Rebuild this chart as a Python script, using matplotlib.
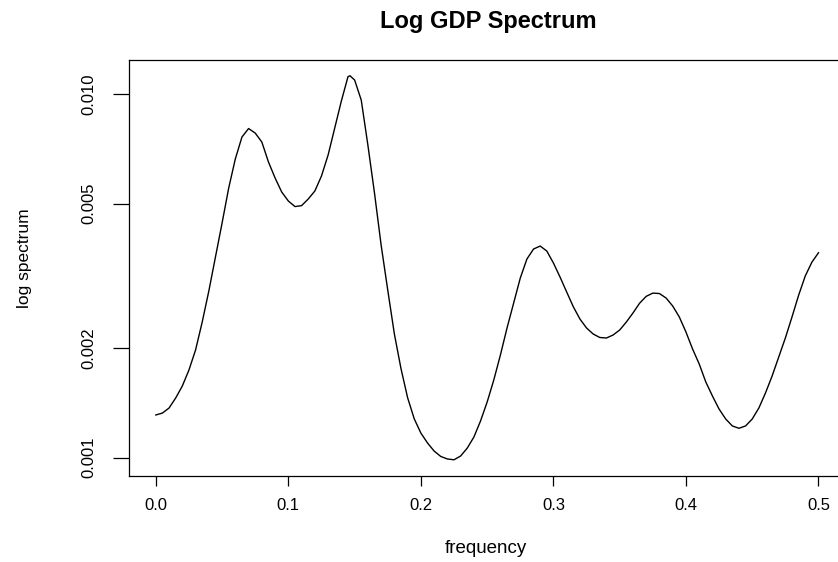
import matplotlib
matplotlib.use("Agg")
import matplotlib.pyplot as plt

plt.rcParams['font.family'] = ['Liberation Sans', 'DejaVu Sans']

# frequency values and spectrum
freq = [0.000, 0.005, 0.010, 0.015, 0.020, 0.025, 0.030, 0.035, 0.040, 0.045,
        0.050, 0.055, 0.060, 0.065, 0.070, 0.075, 0.080, 0.085, 0.090, 0.095,
        0.100, 0.105, 0.110, 0.115, 0.120, 0.125, 0.130, 0.135, 0.140, 0.145,
        0.1465, 0.150, 0.155, 0.160, 0.165, 0.170, 0.175, 0.180, 0.185, 0.190,
        0.195, 0.200, 0.205, 0.210, 0.215, 0.220, 0.225, 0.230, 0.235, 0.240,
        0.245, 0.250, 0.255, 0.260, 0.265, 0.270, 0.275, 0.280, 0.285, 0.290,
        0.295, 0.300, 0.305, 0.310, 0.315, 0.320, 0.325, 0.330, 0.335, 0.340,
        0.345, 0.350, 0.355, 0.360, 0.365, 0.370, 0.375, 0.380, 0.385, 0.390,
        0.395, 0.400, 0.405, 0.410, 0.415, 0.420, 0.425, 0.430, 0.435, 0.440,
        0.445, 0.450, 0.455, 0.460, 0.465, 0.470, 0.475, 0.480, 0.485, 0.490,
        0.495, 0.500]
spec = [0.001311, 0.001327, 0.001370, 0.001460, 0.001575, 0.001743, 0.001979,
        0.002362, 0.002875, 0.003567, 0.004423, 0.005523, 0.006642, 0.007631,
        0.008051, 0.007823, 0.007391, 0.006513, 0.005886, 0.005384, 0.005086,
        0.004910, 0.004940, 0.005151, 0.005419, 0.005960, 0.006808, 0.008078,
        0.009585, 0.011180, 0.011250, 0.010950, 0.009645, 0.007253, 0.005350,
        0.003848, 0.002893, 0.002190, 0.001758, 0.001462, 0.001279, 0.001169,
        0.001098, 0.001043, 0.001008, 0.000992, 0.000987, 0.001011, 0.001063,
        0.001140, 0.001262, 0.001423, 0.001636, 0.001917, 0.002275, 0.002665,
        0.003122, 0.003522, 0.003752, 0.003824, 0.003705, 0.003434, 0.003142,
        0.002858, 0.002603, 0.002408, 0.002275, 0.002190, 0.002142, 0.002135,
        0.002176, 0.002246, 0.002362, 0.002501, 0.002661, 0.002780, 0.002838,
        0.002830, 0.002751, 0.002615, 0.002439, 0.002218, 0.001991, 0.001811,
        0.001615, 0.001478, 0.001361, 0.001278, 0.001223, 0.001205, 0.001223,
        0.001278, 0.001370, 0.001507, 0.001678, 0.001893, 0.002135, 0.002439,
        0.002799, 0.003162, 0.003451, 0.003665]

xticks = [0.0, 0.1, 0.2, 0.3, 0.4, 0.5]
xticklabels = ["0.0", "0.1", "0.2", "0.3", "0.4", "0.5"]
yticks = [0.001, 0.002, 0.005, 0.010]
yticklabels = ["0.001", "0.002", "0.005", "0.010"]

W, H = 838, 562
fig = plt.figure(figsize=(W / 100, H / 100), dpi=100)
ax = fig.add_axes([129.3 / W, (H - 475.7) / H, (845 - 129.3) / W, (475.7 - 60.3) / H])

ax.plot(freq, spec, color='black', linewidth=1.0, solid_joinstyle='round')
ax.set_yscale('log')
ax.set_xlim(-0.02, 0.52)
ax.set_ylim(0.0008923, 0.012406)

ax.set_xticks(xticks)
ax.set_xticklabels(xticklabels, fontsize=12)
ax.set_yticks(yticks)
ax.set_yticklabels(yticklabels, fontsize=12, rotation=90, va='center')
ax.yaxis.set_minor_locator(matplotlib.ticker.NullLocator())

ax.tick_params(axis='x', length=7.2, width=0.9, pad=8.5, direction='out')
ax.tick_params(axis='y', length=11.5, width=0.9, pad=12.0, direction='out')
for s in ax.spines.values():
    s.set_linewidth(0.9)

fig.text(488 / W, (H - 28.3) / H, "Log GDP Spectrum", ha='center', va='baseline',
         fontsize=17, fontweight='bold')
fig.text(486 / W, (H - 553) / H, "frequency", ha='center', va='baseline', fontsize=13.5)
fig.text(24 / W, (H - 258) / H, "log spectrum", ha='center', va='center',
         rotation=90, fontsize=12.5)

fig.savefig("out.png", dpi=100)
